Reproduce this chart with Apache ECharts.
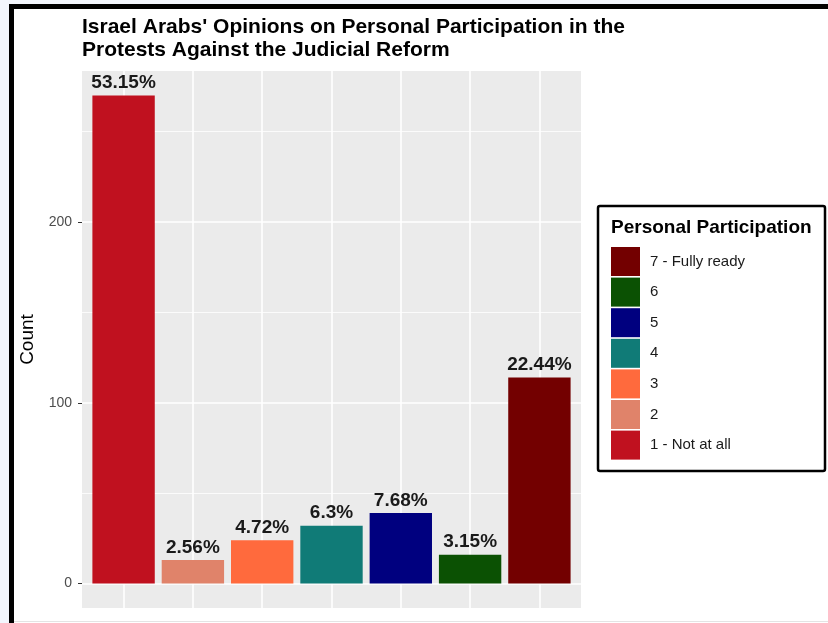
<!DOCTYPE html>
<html>
<head>
<meta charset="utf-8">
<script src="https://cdn.jsdelivr.net/npm/echarts@6/dist/echarts.min.js"></script>
<style>
  html, body { margin: 0; padding: 0; background: #ffffff; }
  #chart { width: 828px; height: 623px; }
</style>
</head>
<body>
<div id="chart"></div>
<script>
// ---- data ----
const categories = ['1 - Not at all', '2', '3', '4', '5', '6', '7 - Fully ready'];
const counts = [270, 13, 24, 32, 39, 16, 114];
const pctLabels = ['53.15%', '2.56%', '4.72%', '6.3%', '7.68%', '3.15%', '22.44%'];
const yMajorTicks = [0, 100, 200];
const yMinorTicks = [50, 150, 250];
const titleLines = ["Israel Arabs' Opinions on Personal Participation in the", "Protests Against the Judicial Reform"];
const legendTitle = 'Personal Participation';
const yName = 'Count';

// ---- styles ----
const colors = ['#C0111F', '#E0836A', '#FF6A3D', '#107B77', '#00007F', '#0B5103', '#730000'];
const FONT = '"Liberation Sans", Arial, Helvetica, sans-serif';
const xPositions = categories.map((c, i) => i + 1);
const yMin = -13.5, yMax = 283.5;   // ggplot 5% expansion
const xMin = 0.4, xMax = 7.6;       // ggplot 0.6 discrete expansion

const chart = echarts.init(document.getElementById('chart'), null, { renderer: 'canvas' });

const series = categories.map((c, i) => ({
  type: 'bar',
  name: c,
  data: [[xPositions[i], counts[i]]],
  barWidth: '90%',
  barGap: '-100%',
  itemStyle: { color: colors[i] },
  label: {
    show: true,
    position: 'top',
    distance: 3,
    formatter: () => pctLabels[i],
    fontFamily: FONT,
    fontWeight: 'bold',
    fontSize: 19,
    color: '#1a1a1a'
  },
  emphasis: { disabled: true },
  animation: false
}));

const option = {
  animation: false,
  backgroundColor: '#ffffff',
  title: {
    text: titleLines.join('\n'),
    left: 82,
    top: 15,
    padding: 0,
    textStyle: {
      fontFamily: FONT,
      fontWeight: 'bold',
      fontSize: 21,
      lineHeight: 23.5,
      color: '#000000'
    }
  },
  graphic: [
    { type: 'rect', shape: { x: 0, y: 0, width: 9, height: 623 }, style: { fill: '#F3F6FD' }, silent: true },
    { type: 'rect', shape: { x: 0, y: 0, width: 828, height: 4 }, style: { fill: '#F3F6FD' }, silent: true },
    { type: 'rect', shape: { x: 9, y: 4, width: 5, height: 619 }, style: { fill: '#000000' }, silent: true },
    { type: 'rect', shape: { x: 9, y: 4, width: 819, height: 5 }, style: { fill: '#000000' }, silent: true },
    { type: 'rect', shape: { x: 14, y: 621, width: 814, height: 1 }, style: { fill: '#E4E4E4' }, silent: true },
    { type: 'rect', shape: { x: 598, y: 206, width: 227, height: 265, r: 2 }, style: { fill: '#ffffff', stroke: '#000000', lineWidth: 2.5 }, silent: true, z: -1 },
    { type: 'text', left: 611, top: 218, style: { text: legendTitle, font: 'bold 19px ' + FONT, fill: '#000000' }, silent: true }
  ],
  legend: {
    orient: 'vertical',
    left: 611,
    top: 247,
    padding: 0,
    itemWidth: 29,
    itemHeight: 29,
    itemGap: 1.6,
    icon: 'rect',
    selectedMode: false,
    data: categories.slice().reverse(),
    textStyle: { fontFamily: FONT, fontSize: 15, color: '#1a1a1a', padding: [0, 0, 0, 5] }
  },
  grid: {
    left: 82,
    top: 71,
    width: 499,
    height: 537,
    show: true,
    backgroundColor: '#EBEBEB',
    borderWidth: 0,
    containLabel: false
  },
  xAxis: {
    type: 'value',
    min: xMin,
    max: xMax,
    axisLine: { show: false },
    axisLabel: { show: false },
    axisTick: { show: false, customValues: xPositions },
    splitLine: { show: true, lineStyle: { color: '#ffffff', width: 1.6 } }
  },
  yAxis: [
    {
      type: 'value',
      min: yMin,
      max: yMax,
      name: yName,
      nameLocation: 'middle',
      nameGap: 41,
      nameTextStyle: { fontFamily: FONT, fontSize: 19, color: '#000000' },
      axisLine: { show: false },
      axisTick: { show: true, length: 4, customValues: yMajorTicks, lineStyle: { color: '#333333', width: 1 } },
      axisLabel: { show: true, customValues: yMajorTicks, margin: 10, fontFamily: FONT, fontSize: 14, color: '#4D4D4D' },
      splitLine: { show: true, lineStyle: { color: '#ffffff', width: 1.6 } }
    },
    {
      type: 'value',
      min: yMin,
      max: yMax,
      axisLine: { show: false },
      axisTick: { show: false, customValues: yMinorTicks },
      axisLabel: { show: false, customValues: yMinorTicks },
      splitLine: { show: true, lineStyle: { color: '#ffffff', width: 0.8 } }
    }
  ],
  series: series
};

chart.setOption(option);
</script>
</body>
</html>
